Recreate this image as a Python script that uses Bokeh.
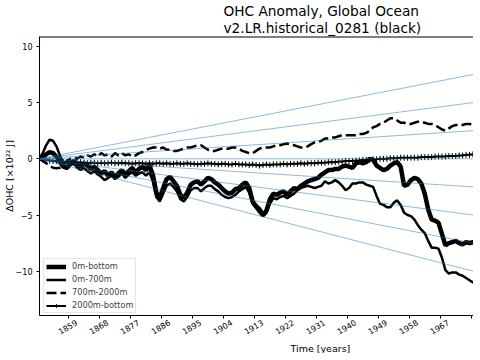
import math
from bokeh.plotting import figure
from bokeh.models import (Range1d, FixedTicker, LinearAxis, Title, Legend, LegendItem,
                          ColumnDataSource, Span)
from bokeh.embed import file_html
from bokeh.resources import INLINE

# ---------------- data ----------------
first_year = 1850.5
n_years = 128
years = [first_year + i for i in range(n_years)]

ohc_0m_bottom = [
    0.0, 0.2, 0.4, 0.6, 0.5, 0.2, -0.3, -0.7, -0.8, -0.4,
    -0.2, -0.5, -0.7, -0.4, -0.6, -0.9, -0.7, -1.0, -1.3, -1.1,
    -1.5, -1.2, -1.6, -1.3, -1.0, -1.4, -1.1, -0.8, -1.2, -0.9,
    -0.7, -1.0, -0.6, -1.4, -3.0, -3.5, -2.6, -1.8, -1.6, -2.0,
    -2.4, -3.2, -3.5, -3.0, -2.3, -2.1, -2.0, -2.3, -2.0, -1.7,
    -1.8, -2.1, -2.3, -2.6, -2.9, -3.1, -3.0, -2.7, -2.6, -2.3,
    -2.1, -2.6, -3.8, -4.2, -4.5, -5.0, -4.6, -3.6, -3.1, -3.2,
    -3.0, -2.9, -3.2, -2.9, -2.6, -2.7, -2.4, -2.2, -2.0, -1.9,
    -1.8, -1.7, -1.4, -1.2, -1.0, -1.0, -0.9, -0.9, -0.7, -0.6,
    -0.7, -0.8, -0.4, -0.3, -0.4, -0.3, 0.0, -0.1, -0.6, -0.8,
    -1.0, -0.9, -0.6, -0.4, -0.3, -0.7, -2.4, -2.3, -1.9, -1.7,
    -1.8, -2.2, -3.1, -4.5, -5.4, -5.5, -5.7, -6.7, -7.7, -7.5,
    -7.4, -7.3, -7.5, -7.6, -7.4, -7.5, -7.4, -7.6,
]

ohc_0m_700m = [
    0.0, 0.5, 1.2, 1.7, 1.6, 1.1, 0.3, -0.4, -0.9, -0.6,
    -0.4, -0.8, -1.0, -0.8, -1.1, -1.3, -1.1, -1.4, -1.6, -1.9,
    -1.7, -1.5, -1.8, -1.6, -1.3, -1.7, -1.4, -1.2, -1.5, -1.3,
    -1.2, -1.5, -1.2, -2.0, -3.4, -3.8, -3.1, -2.4, -2.2, -2.5,
    -2.9, -3.6, -3.8, -3.4, -2.8, -2.6, -2.6, -2.9, -2.6, -2.4,
    -2.4, -2.7, -2.9, -3.2, -3.4, -3.5, -3.4, -3.2, -2.9, -2.7,
    -2.5, -3.0, -4.0, -4.4, -4.8, -5.1, -4.8, -4.0, -3.5, -3.6,
    -3.4, -3.3, -3.5, -3.3, -3.1, -2.8, -2.6, -2.5, -2.4, -2.5,
    -2.6, -2.5, -2.4, -2.0, -2.2, -2.1, -1.9, -2.1, -2.4, -2.8,
    -2.6, -2.2, -2.2, -2.1, -2.1, -2.3, -2.4, -2.5, -3.3, -4.0,
    -4.1, -4.3, -4.3, -3.9, -3.7, -4.1, -4.8, -5.0, -5.1, -5.4,
    -5.9, -6.3, -6.6, -7.3, -7.9, -7.9, -8.0, -8.8, -9.9, -10.2,
    -10.1, -10.1, -10.3, -10.4, -10.6, -10.8, -11.0, -11.1,
]

ohc_700m_2000m = [
    0.0, -0.2, -0.4, -0.6, -0.8, -0.85, -0.8, -0.5, -0.2, 0.0,
    0.1, 0.0, 0.2, 0.1, 0.3, 0.2, 0.4, 0.2, 0.5, 0.3,
    0.4, 0.2, 0.5, 0.3, 0.5, 0.3, 0.4, 0.2, 0.3, 0.5,
    0.6, 0.8, 0.9, 1.0, 1.0, 0.9, 1.0, 0.8, 0.8, 0.7,
    0.7, 0.8, 0.9, 1.0, 1.0, 1.1, 1.2, 1.2, 1.0, 0.8,
    0.7, 0.7, 0.8, 0.9, 0.9, 0.9, 1.0, 1.0, 0.9, 0.7,
    0.6, 0.5, 0.5, 0.7, 0.9, 1.0, 1.0, 1.0, 1.1, 1.2,
    1.2, 1.3, 1.35, 1.3, 1.2, 1.1, 1.0, 1.0, 1.1, 1.3,
    1.45, 1.5, 1.6, 1.8, 1.8, 1.9, 1.9, 2.0, 2.1, 2.1,
    2.1, 2.1, 2.1, 2.2, 2.2, 2.3, 2.5, 2.8, 2.9, 3.1,
    3.2, 3.4, 3.6, 3.6, 3.4, 3.2, 3.2, 3.1, 3.1, 3.2,
    3.3, 3.3, 3.2, 3.1, 3.1, 3.0, 2.8, 2.6, 2.5, 2.7,
    2.9, 3.0, 3.0, 3.0, 3.1, 3.1, 3.0, 3.0,
]

ohc_2000m_bottom = [
    0.0, -0.05, -0.1, -0.15, -0.2, -0.2, -0.25, -0.3, -0.3, -0.3,
    -0.35, -0.35, -0.3, -0.35, -0.4, -0.35, -0.35, -0.4, -0.35, -0.4,
    -0.4, -0.35, -0.4, -0.4, -0.35, -0.4, -0.4, -0.45, -0.4, -0.4,
    -0.4, -0.45, -0.4, -0.45, -0.4, -0.4, -0.45, -0.4, -0.45, -0.45,
    -0.4, -0.45, -0.45, -0.4, -0.45, -0.45, -0.5, -0.45, -0.45, -0.4,
    -0.45, -0.45, -0.5, -0.45, -0.45, -0.5, -0.5, -0.45, -0.5, -0.5,
    -0.5, -0.55, -0.5, -0.55, -0.6, -0.55, -0.5, -0.55, -0.5, -0.5,
    -0.5, -0.45, -0.5, -0.45, -0.45, -0.45, -0.4, -0.45, -0.4, -0.4,
    -0.4, -0.35, -0.35, -0.35, -0.3, -0.3, -0.3, -0.25, -0.25, -0.2,
    -0.2, -0.2, -0.15, -0.15, -0.1, -0.1, -0.1, -0.05, -0.05, 0.0,
    0.0, 0.0, 0.05, 0.05, 0.05, 0.1, 0.1, 0.1, 0.1, 0.1,
    0.1, 0.15, 0.15, 0.15, 0.15, 0.2, 0.2, 0.2, 0.2, 0.25,
    0.25, 0.25, 0.3, 0.3, 0.35, 0.35, 0.4, 0.4,
]

# reference trend lines: value reached at the right edge of the view
trend_end_values = [7.5, 5.0, 2.5, 0.0, -2.5, -5.0, -7.5, -10.0]

x_view = (1850.57, 1976.66)
y_view = (-13.93, 10.87)
tick_years = [1859 + 9 * k for k in range(14)]
y_ticks = [-10, -5, 0, 5, 10]

title_text = "OHC Anomaly, Global Ocean\n v2.LR.historical_0281 (black)"
x_label = "Time [years]"
y_label = "\u0394OHC [\u00d710\u00b2\u00b2 J]"
legend_labels = ["0m-bottom", "0m-700m", "700m-2000m", "2000m-bottom"]

FONT = "DejaVu Sans"
LABEL_SHIFT_YEARS = 2.3   # matplotlib centres rotated labels on the tick

# ---------------- figure ----------------
p = figure(frame_width=434, frame_height=279, output_backend="svg", toolbar_location=None,
           x_range=Range1d(*x_view), y_range=Range1d(*y_view),
           min_border_left=38, min_border_right=0, min_border_top=28,
           min_border_bottom=0, x_axis_location=None)
p.outline_line_color = None
p.grid.visible = False
p.background_fill_color = "white"
p.border_fill_color = "white"

src = ColumnDataSource(dict(x=years, a=ohc_0m_bottom, b=ohc_0m_700m,
                            c=ohc_700m_2000m, d=ohc_2000m_bottom))

r1 = p.line("x", "a", source=src, line_color="black", line_width=4.5)
r2 = p.line("x", "b", source=src, line_color="black", line_width=2.5)
r3 = p.line("x", "c", source=src, line_color="black", line_width=2.5, line_dash="10 4")
r4 = p.line("x", "d", source=src, line_color="black", line_width=2)
r4m = p.scatter("x", "d", source=src, marker="cross", size=6, line_color="black", line_width=1)

# fan of reference lines from the start point
span = x_view[1] - years[0]
for v in trend_end_values:
    slope = v / span
    xe = years[-1] + 2
    p.line([years[0], xe], [0.0, slope * (xe - years[0])], line_color="#1f77b4",
           line_alpha=0.5, line_width=1)

# top spine
p.add_layout(Span(location=y_view[1], dimension="width", line_color="black", line_width=2))

# title (left aligned, offset so it is centred on the original, wider axes)
p.title.text = title_text
p.title.align = "left"
p.title.offset = 184
p.title.text_font = FONT
p.title.text_font_size = "13.7px"
p.title.text_font_style = "normal"
p.title.text_color = "black"
p.title.text_line_height = 1.05
p.title.standoff = 1

# y axis
ya = p.yaxis[0]
ya.ticker = FixedTicker(ticks=y_ticks)
ya.axis_label = y_label
ya.axis_label_text_font = FONT
ya.axis_label_text_font_size = "9.5px"
ya.axis_label_text_font_style = "normal"
ya.axis_label_text_color = "black"
ya.axis_label_standoff = -2
ya.major_label_standoff = 4

# x axis: ticks + line; labels drawn by a second axis shifted to mimic centring
xa = LinearAxis(ticker=FixedTicker(ticks=tick_years),
                major_label_overrides={t: "" for t in tick_years},
                major_label_standoff=0)
p.add_layout(xa, "below")
xl = LinearAxis(ticker=FixedTicker(ticks=[t + LABEL_SHIFT_YEARS for t in tick_years]),
                major_label_overrides={t + LABEL_SHIFT_YEARS: str(t) for t in tick_years},
                major_label_orientation=math.radians(30),
                major_label_standoff=3, axis_line_color=None,
                major_tick_line_color=None, minor_tick_line_color=None,
                major_tick_out=0, major_tick_in=0)
p.add_layout(xl, "below")

for ax in (xa, xl, ya):
    ax.major_label_text_font = FONT
    ax.major_label_text_font_size = "8px"
    ax.major_label_text_color = "black"
    ax.minor_tick_line_color = None
for ax in (xa, ya):
    ax.major_tick_out = 3
    ax.major_tick_in = 0
    ax.axis_line_color = "black"
    ax.major_tick_line_color = "black"

p.add_layout(Title(text=x_label, align="left", offset=251, text_font=FONT,
                   text_font_size="9.5px", text_font_style="normal",
                   text_color="black", standoff=0), "below")

legend = Legend(items=[
    LegendItem(label=legend_labels[0], renderers=[r1]),
    LegendItem(label=legend_labels[1], renderers=[r2]),
    LegendItem(label=legend_labels[2], renderers=[r3]),
    LegendItem(label=legend_labels[3], renderers=[r4, r4m]),
], location=(4, 2))
legend.label_text_font = FONT
legend.label_text_font_size = "8.2px"
legend.label_height = 9
legend.glyph_height = 9
legend.glyph_width = 20
legend.spacing = 3
legend.padding = 2
legend.margin = 0
legend.label_standoff = 6
legend.border_line_color = "#cccccc"
legend.background_fill_alpha = 0.8
p.add_layout(legend, "center")

open("out.html", "w").write(file_html(p, INLINE))
